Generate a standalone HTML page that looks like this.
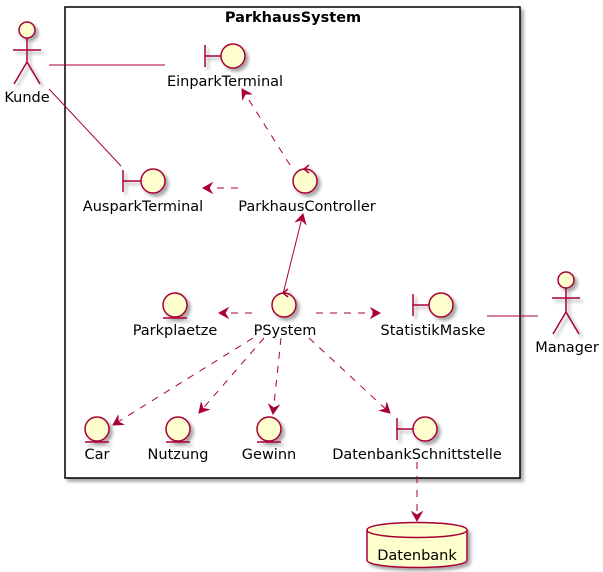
<!DOCTYPE html>
<html><head><meta charset="utf-8"><style>body{margin:0;background:#fff}svg{display:block}</style></head><body>
<svg width="603" height="572" xmlns="http://www.w3.org/2000/svg" font-family="DejaVu Sans, Liberation Sans, sans-serif" font-size="14.5">
<defs>
<marker id="a" markerWidth="12" markerHeight="12" refX="10" refY="6" orient="auto" markerUnits="userSpaceOnUse"><path d="M1,1 L10,6 L1,11 L4,6 Z" fill="#A80036" stroke="#A80036" stroke-width="1"/></marker>
<filter id="s" x="-20%" y="-20%" width="150%" height="150%"><feDropShadow dx="3" dy="3" stdDeviation="1.5" flood-color="#000" flood-opacity="0.35"/></filter>
</defs>
<rect x="65" y="7" width="455" height="471" fill="#fff" stroke="#000" stroke-width="1.5" filter="url(#s)"/>
<text x="293" y="22" text-anchor="middle" font-weight="bold">ParkhausSystem</text>
<g stroke="#A80036" stroke-width="1" fill="none">
<line x1="49" y1="65" x2="165" y2="65"/>
<line x1="49" y1="89" x2="121" y2="166"/>
<line x1="487" y1="316" x2="538" y2="316"/>
<g stroke-dasharray="7,7">
<line x1="290" y1="165" x2="242" y2="89" marker-end="url(#a)"/>
<line x1="238" y1="188" x2="203" y2="188" marker-end="url(#a)"/>
<line x1="252" y1="313" x2="219" y2="313" marker-end="url(#a)"/>
<line x1="316" y1="313" x2="380" y2="313" marker-end="url(#a)"/>
<line x1="253" y1="338" x2="113" y2="425" marker-end="url(#a)"/>
<line x1="264" y1="338" x2="199" y2="413" marker-end="url(#a)"/>
<line x1="281" y1="338" x2="273" y2="414" marker-end="url(#a)"/>
<line x1="309" y1="338" x2="390" y2="413" marker-end="url(#a)"/>
<line x1="417" y1="462" x2="417" y2="521" marker-end="url(#a)"/>
</g>
<line x1="283" y1="294" x2="303" y2="214" marker-end="url(#a)"/>
</g>
<g stroke="#A80036" stroke-width="1.5" fill="#FEFECE" filter="url(#s)">
<circle cx="27" cy="30" r="8"/>
<path d="M27,38 V62 M13,50 H41 M27,62 L14,84 M27,62 L40,84" fill="none"/>
<circle cx="566" cy="280" r="8"/>
<path d="M566,288 V312 M552,298 H580 M566,312 L553,334 M566,312 L579,334" fill="none"/>
<path d="M205,45 V67 M205,56 H221" fill="none"/><circle cx="233" cy="56" r="12"/>
<path d="M123,170 V192 M123,181 H141" fill="none"/><circle cx="153" cy="181" r="12"/>
<path d="M413,294 V316 M413,305 H429" fill="none"/><circle cx="441" cy="305" r="12"/>
<path d="M397,418 V440 M397,429 H413" fill="none"/><circle cx="425" cy="429" r="12"/>
<circle cx="305" cy="181" r="12"/><path d="M309,165 L304,169 L309,173" fill="none"/>
<circle cx="284" cy="305" r="12"/><path d="M288,289 L283,293 L288,297" fill="none"/>
<circle cx="175" cy="305" r="12"/><path d="M163,318 H187" fill="none"/>
<circle cx="97" cy="429" r="12"/><path d="M85,442 H109" fill="none"/>
<circle cx="178" cy="429" r="12"/><path d="M166,442 H190" fill="none"/>
<circle cx="269" cy="429" r="12"/><path d="M257,442 H281" fill="none"/>
<path d="M367,530 C367,520 467,520 467,530 V560 C467,570 367,570 367,560 Z"/>
<path d="M367,530 C367,540 467,540 467,530" fill="none"/>
</g>
<g fill="#000" text-anchor="middle">
<text x="27" y="102">Kunde</text>
<text x="567" y="352">Manager</text>
<text x="225" y="86">EinparkTerminal</text>
<text x="143" y="211">AusparkTerminal</text>
<text x="307" y="211">ParkhausController</text>
<text x="175" y="335">Parkplaetze</text>
<text x="285" y="335">PSystem</text>
<text x="433" y="335">StatistikMaske</text>
<text x="97" y="459">Car</text>
<text x="178" y="459">Nutzung</text>
<text x="269" y="459">Gewinn</text>
<text x="417" y="459">DatenbankSchnittstelle</text>
<text x="417" y="560">Datenbank</text>
</g>
</svg>
</body></html>
